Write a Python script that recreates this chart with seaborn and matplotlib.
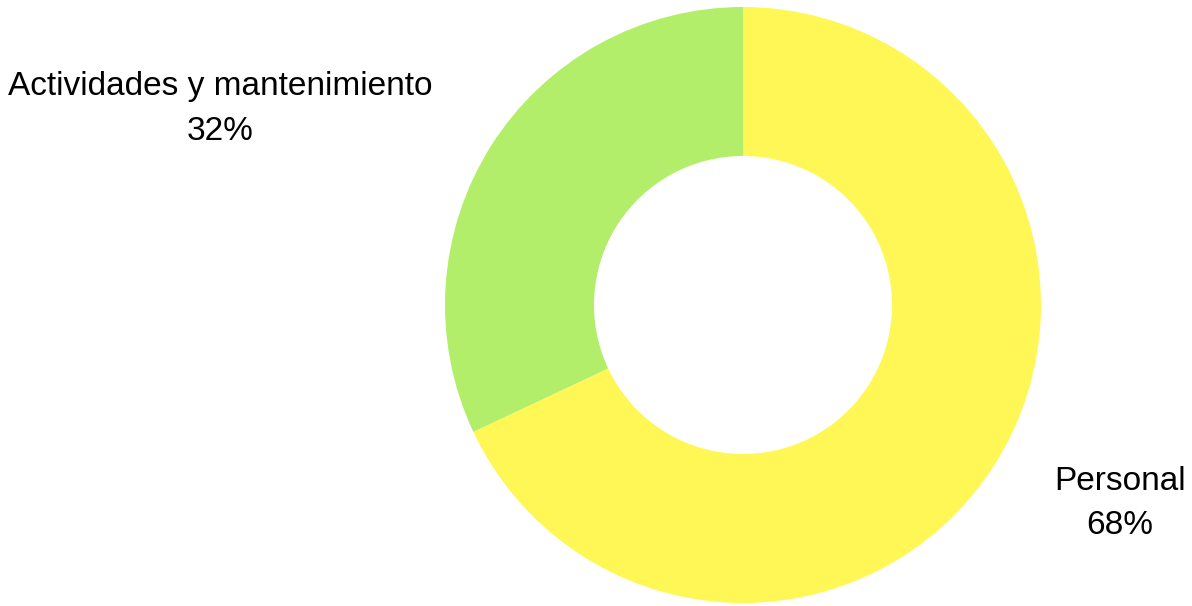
import matplotlib
matplotlib.use("Agg")
import matplotlib.pyplot as plt
import seaborn as sns

categories = ["Personal", "Actividades y mantenimiento"]
values = [68, 32]
colors = ["#FFF755", "#B3EE6B"]

sns.set_theme(style="white")
plt.rcParams['font.family'] = ['Liberation Sans', 'DejaVu Sans']

W, H = 1192, 606
fig = plt.figure(figsize=(W / 100, H / 100), dpi=100)
ax = fig.add_axes([0, 0, 1, 1])
ax.set_xlim(0, W)
ax.set_ylim(0, H)
ax.set_aspect("equal")
ax.axis("off")

cx, cy, R = 743, H - 305, 298
ax.pie(values, colors=colors, startangle=90, counterclock=False,
       center=(cx, cy), radius=R, frame=True,
       wedgeprops=dict(width=R * 0.5, linewidth=0))
ax.set_xlim(0, W)
ax.set_ylim(0, H)
ax.axis("off")

fs = 24
ax.text(220, H - 86, categories[1], ha="center", va="center", fontsize=fs, color="black")
ax.text(220, H - 131, f"{values[1]}%", ha="center", va="center", fontsize=fs, color="black")
ax.text(1120, H - 481, categories[0], ha="center", va="center", fontsize=fs, color="black")
ax.text(1120, H - 525, f"{values[0]}%", ha="center", va="center", fontsize=fs, color="black")

fig.savefig("out.png", dpi=100, facecolor="white")
